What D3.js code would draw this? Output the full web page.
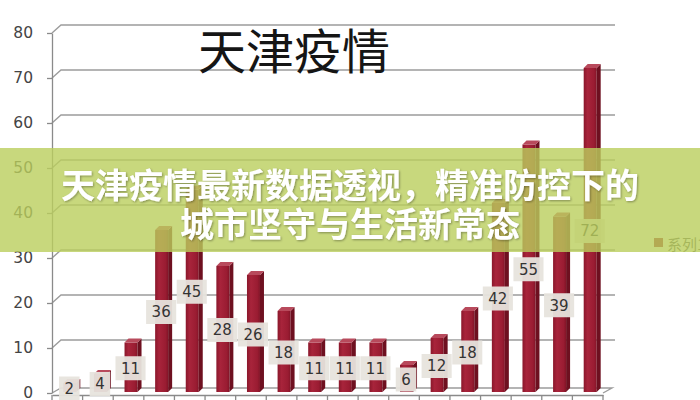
<!DOCTYPE html>
<html><head><meta charset="utf-8">
<script src="https://cdn.jsdelivr.net/npm/d3@7"></script>
<style>body{margin:0;background:#fff}svg{display:block}</style>
</head><body><svg id="c" width="700" height="400"></svg>
<script>
const categories = ["1","2","3","4","5","6","7","8","9","10","11","12","13","14","15","16","17","18"];
const values = [2,4,11,36,45,28,26,18,11,11,11,6,12,18,42,55,39,72];
const yTicks = [0,10,20,30,40,50,60,70,80];
const chartTitle = "天津疫情";
const legendLabel = "系列1";
const bannerLines = ["天津疫情最新数据透视，精准防控下的","城市坚守与生活新常态"];

const svg = d3.select("#c");
const W = 700, H = 400;
svg.append("rect").attr("width",W).attr("height",H).attr("fill","#fff");

const defs = svg.append("defs");
const g1 = defs.append("linearGradient").attr("id","barG").attr("x1","0").attr("x2","1");
g1.append("stop").attr("offset","0").attr("stop-color","#8a172b");
g1.append("stop").attr("offset","0.3").attr("stop-color","#a8243b");
g1.append("stop").attr("offset","0.8").attr("stop-color","#9a1c32");
g1.append("stop").attr("offset","1").attr("stop-color","#821427");
const f = defs.append("filter").attr("id","sh").attr("x","-10%").attr("y","-30%").attr("width","120%").attr("height","160%");
f.append("feDropShadow").attr("dx",1).attr("dy",1).attr("stdDeviation",1.2).attr("flood-color","#000").attr("flood-opacity",0.35);

const x = d3.scaleBand().domain(categories).range([52,603]).padding(0);
const y = d3.scaleLinear().domain([0,80]).range([393,33]);
const bw = x.bandwidth();
const DX = 9, DY = 8;

// gridlines (back wall)
svg.append("g").selectAll("path").data(yTicks).join("path")
  .attr("d", v => v === 0
     ? `M52,${y(v)}L${52+DX},${y(v)-5}L612,${y(v)-5}L603,${y(v)}`
     : `M52,${y(v)}L${52+DX},${y(v)-DY}L615,${y(v)-DY}`)
  .attr("fill","none").attr("stroke","#9c9c9c").attr("stroke-width",1.4);

// y axis
const ya = svg.append("g").attr("transform","translate(52,0)")
  .call(d3.axisLeft(y).tickValues(yTicks).tickSize(5).tickSizeOuter(0).tickPadding(14));
ya.select(".domain").attr("stroke","#8a8a8a").attr("stroke-width",1.3);
ya.selectAll(".tick line").attr("stroke","#8a8a8a").attr("stroke-width",1.3);
ya.selectAll(".tick text").attr("font-family","DejaVu Sans, sans-serif").attr("font-size",15.5).attr("fill","#444");

// x axis (category labels fall below the visible frame in the reference)
const xa = svg.append("g").attr("transform","translate(0,395)")
  .call(d3.axisBottom(x).tickSize(0).tickFormat(() => ""));
xa.select(".domain").attr("stroke","#8a8a8a").attr("stroke-width",1.3);
svg.append("g").selectAll("line").data(categories.concat(["end"])).join("line")
  .attr("x1", c => c === "end" ? 603 : x(c)).attr("x2", c => c === "end" ? 603 : x(c))
  .attr("y1",395).attr("y2",401).attr("stroke","#8a8a8a").attr("stroke-width",1.3);

// bars
const FW = 13, SD = 4;
const bars = svg.append("g").selectAll("g").data(values).join("g");
bars.each(function(v,i){
  const gg = d3.select(this);
  const bx = x(categories[i]) + bw/2 - 4;
  const top = y(v) - 1, bot = y(0) - 1;
  gg.append("rect").attr("x",bx).attr("y",top).attr("width",FW).attr("height",bot-top).attr("fill","url(#barG)");
  gg.append("path").attr("d",`M${bx+FW},${top}L${bx+FW+SD},${top-SD}L${bx+FW+SD},${bot-SD}L${bx+FW},${bot}Z`).attr("fill","#6e1020");
  gg.append("path").attr("d",`M${bx},${top}L${bx+SD},${top-SD}L${bx+FW+SD},${top-SD}L${bx+FW},${top}Z`).attr("fill","#b84a5c");
});

// value labels
const labs = svg.append("g").selectAll("g").data(values).join("g")
  .attr("transform",(v,i)=>`translate(${x(categories[i])+bw/2+2},${y(v/2)})`);
labs.append("rect").attr("fill","#e7e4dd").attr("fill-opacity",0.95);
labs.append("text").text(v=>v).attr("text-anchor","middle").attr("dy","0.36em")
  .attr("font-family","DejaVu Sans, sans-serif").attr("font-size",15).attr("fill","#333");
labs.each(function(){
  const t = d3.select(this).select("text").node();
  const w = t.getComputedTextLength() + 11;
  d3.select(this).select("rect").attr("x",-w/2).attr("y",-12).attr("width",w).attr("height",24);
});

// title
svg.append("text").text(chartTitle).attr("x",294).attr("y",48).attr("text-anchor","middle")
  .attr("dominant-baseline","central").attr("font-family","Noto Sans CJK SC, sans-serif")
  .attr("font-size",48).attr("fill","#151515");

// legend
svg.append("rect").attr("x",654).attr("y",238).attr("width",9).attr("height",9).attr("fill","#9a1b30");
svg.append("text").text(legendLabel).attr("x",667).attr("y",243).attr("dominant-baseline","central")
  .attr("font-family","Noto Sans CJK SC, sans-serif").attr("font-size",15).attr("fill","#555");

// banner
svg.append("rect").attr("x",0).attr("y",148).attr("width",W).attr("height",104)
  .attr("fill","rgb(186,206,92)").attr("fill-opacity",0.8);
svg.append("g").selectAll("text").data(bannerLines).join("text")
  .text(d=>d).attr("x",350).attr("y",(d,i)=>i===0?183:222).attr("text-anchor","middle")
  .attr("dominant-baseline","central").attr("font-family","Noto Sans CJK SC, sans-serif")
  .attr("font-weight",700).attr("font-size",34).attr("fill","#fff").attr("filter","url(#sh)");
</script></body></html>
